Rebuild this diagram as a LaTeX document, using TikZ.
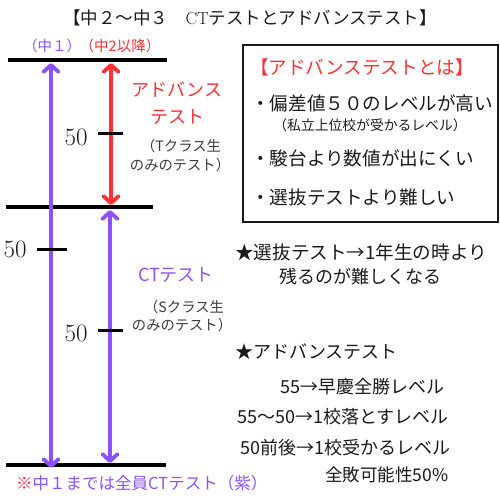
\documentclass[tikz,border=0pt]{standalone}
\usepackage{fontspec}
\usetikzlibrary{arrows.meta}
\newfontfamily\jp{Noto Sans CJK JP}
\definecolor{pur}{HTML}{8C52FF}
\definecolor{rd}{HTML}{FF3131}
\definecolor{ink}{HTML}{1A1A1A}
\tikzset{
  txt/.style={inner sep=0pt, text=ink, font={\jp\fontsize{18}{20}\selectfont}},
  boxt/.style={inner sep=0pt, text=ink, font={\jp\fontsize{18.6}{20}\selectfont}},
  sml/.style={inner sep=0pt, text=ink!85, font={\jp\fontsize{14.3}{16}\selectfont}},
  lbl/.style={inner sep=0pt, font={\jp\fontsize{14.5}{16}\selectfont}},
  num/.style={inner sep=0pt, text=ink, font={\fontsize{25}{27}\selectfont}},
  level/.style={line width=3.6pt, draw=black},
  tick/.style={line width=3pt, draw=black},
  arr/.style={line width=3.8pt, {Straight Barb[length=7pt,width=15pt,round]}-{Straight Barb[length=7pt,width=15pt,round]}},
}
\begin{document}
\begin{tikzpicture}[x=1pt,y=-1pt]
\useasboundingbox[fill=white] (0,0) rectangle (500,500);
% title
\node[inner sep=0pt, text=ink, font={\jp\fontsize{17.5}{19}\selectfont}] (title) at (250,18) {【中２～中３　{\rmfamily CT}テストとアドバンステスト】};
% level lines
\coordinate (t1) at (8,60);   \coordinate (t2) at (167,60);
\coordinate (m1) at (6,207);  \coordinate (m2) at (153,207);
\coordinate (b1) at (6,465);  \coordinate (b2) at (166,465);
\draw[level] (t1) -- (t2);
\draw[level] (m1) -- (m2);
\draw[level] (b1) -- (b2);
% arrows
\coordinate (la) at (51,63);  \coordinate (lb) at (51,468);
\coordinate (ra) at (111,63); \coordinate (rb) at (111,205);
\coordinate (pa) at (110,210);\coordinate (pb) at (110,463);
\draw[arr, draw=pur] (la) -- (lb);
\draw[arr, draw=rd] (ra) -- (rb);
\draw[arr, draw=pur] (pa) -- (pb);
% ticks
\coordinate (k1a) at (98,133);  \coordinate (k1b) at (123,133);
\coordinate (k2a) at (37,249);  \coordinate (k2b) at (67,249);
\coordinate (k3a) at (98,330);  \coordinate (k3b) at (123,330);
\draw[tick] (k1a) -- (k1b);
\draw[tick] (k2a) -- (k2b);
\draw[tick] (k3a) -- (k3b);
\node[num] (n1) at (76,137) {50};
\node[num] (n2) at (15,249) {50};
\node[num] (n3) at (76,333) {50};
% labels on left
\node[lbl, text=pur] (c1) at (52,46) {（中１）};
\node[lbl, text=rd] (c2) at (120,46) {（中2以降）};
\node[txt, text=rd] (adv1) at (177,90) {アドバンス};
\node[txt, text=rd] (adv2) at (177,117) {テスト};
\node[sml] (tc1) at (181,146) {（Tクラス生};
\node[sml] (tc2) at (180,165) {のみのテスト）};
\node[txt, text=pur] (ct) at (176,275) {CTテスト};
\node[sml] (sc1) at (184,307) {（Sクラス生};
\node[sml] (sc2) at (182,325) {のみのテスト）};
% box
\node[draw=ink, line width=1.3pt, minimum width=255pt, minimum height=177pt, inner sep=0pt] (box) at (370.5,133.5) {};
\node[boxt, text=rd] (bt) at (362,67) {【アドバンステストとは】};
\node[boxt, anchor=west] (b1t) at (251,103) {・偏差値５０のレベルが高い};
\node[sml, text=ink, font={\jp\fontsize{13.8}{15}\selectfont}] (b2t) at (370,125) {（私立上位校が受かるレベル）};
\node[boxt, anchor=west] (b3t) at (251,158) {・駿台より数値が出にくい};
\node[boxt, anchor=west] (b4t) at (251,197) {・選抜テストより難しい};
% right notes
\node[txt, anchor=west, font={\jp\fontsize{18.6}{20}\selectfont}] (r1) at (235,252) {★選抜テスト→1年生の時より};
\node[txt] (r2) at (360,277) {残るのが難しくなる};
\node[txt, anchor=west] (r3) at (235,352) {★アドバンステスト};
\node[txt, anchor=west] (r4) at (280,387) {55→早慶全勝レベル};
\node[txt, anchor=west] (r5) at (237,417) {55～50→1校落とすレベル};
\node[txt, anchor=west] (r6) at (240,448) {50前後→1校受かるレベル};
\node[txt, anchor=west, font={\jp\fontsize{17.5}{19}\selectfont}] (r7) at (325,475) {全敗可能性50\%};
% bottom note
\node[inner sep=0pt, anchor=west, font={\jp\fontsize{16.5}{18}\selectfont}] (note) at (16,483) {\textcolor{rd}{※}\textcolor{pur}{中１までは全員CTテスト（紫）}};
\end{tikzpicture}
\end{document}
